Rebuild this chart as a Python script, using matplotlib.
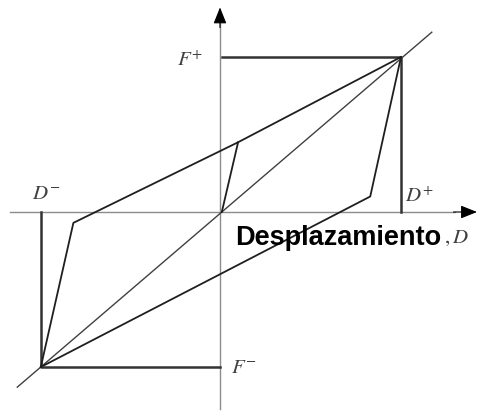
import numpy as np
import matplotlib
matplotlib.use('Agg')
import matplotlib.pyplot as plt

plt.rcParams['mathtext.fontset'] = 'stix'

# normalised displacement / force of the cycle
d_peak_pos, f_peak_pos = 1.0, 1.0
d_peak_neg, f_peak_neg = -0.99, -1.0

# upper (unloading from D-) branch
upper_d = [-0.99, -0.81, 0.10, 1.0]
upper_f = [-1.0, -0.07, 0.45, 1.0]
# partial reload from the upper branch back to the origin
reload_d = [0.10, 0.01]
reload_f = [0.45, 0.0]
# lower branch
lower_d = [-0.99, 0.83, 1.0]
lower_f = [-1.0, 0.10, 1.0]
# secant line through both peaks
secant_d = [-1.12, 1.17]
secant_f = [-1.13, 1.16]

fig = plt.figure(figsize=(4.81, 4.12), dpi=100)
ax = fig.add_axes([0, 0, 1, 1])
ax.set_xlim(-220/181., 261/181.)
ax.set_ylim(-200/155., 212/155.)
ax.axis('off')

axis_col = '0.55'
line_col = '0.12'

# coordinate axes
ax.plot([-1.16, 1.30], [0, 0], color=axis_col, lw=1.0)
ax.plot([0, 0], [-1.27, 1.22], color=axis_col, lw=1.0)
ax.annotate('', xy=(1.42, 0), xytext=(1.29, 0),
            arrowprops=dict(arrowstyle='-|>,head_length=1.0,head_width=0.4',
                            color='black', lw=0.8, shrinkA=0, shrinkB=0))
ax.annotate('', xy=(0, 1.32), xytext=(0, 1.19),
            arrowprops=dict(arrowstyle='-|>,head_length=1.0,head_width=0.4',
                            color='black', lw=0.8, shrinkA=0, shrinkB=0))

# peak markers
ax.plot([0.01, d_peak_pos, d_peak_pos], [f_peak_pos, f_peak_pos, 0], color='0.2', lw=1.8)
ax.plot([d_peak_neg, d_peak_neg, 0], [0, f_peak_neg, f_peak_neg], color='0.2', lw=1.8)

# secant
ax.plot(secant_d, secant_f, color='0.25', lw=1.0)

# loops
ax.plot(upper_d, upper_f, color=line_col, lw=1.3)
ax.plot(reload_d, reload_f, color=line_col, lw=1.3)
ax.plot(lower_d, lower_f, color=line_col, lw=1.3)

# labels
lab_col = '0.25'
ax.text(-0.09, 0.98, r'$F^{+}$', ha='right', va='center', fontsize=15, color=lab_col)
ax.text(0.06, f_peak_neg, r'$F^{-}$', ha='left', va='center', fontsize=15, color=lab_col)
ax.text(-0.96, 0.12, r'$D^{-}$', ha='center', va='center', fontsize=15, color=lab_col)
ax.text(1.10, 0.10, r'$D^{+}$', ha='center', va='center', fontsize=15, color=lab_col)

ax.text(0.085, -0.17, 'Desplazamiento', ha='left', va='center', fontsize=19.5,
        fontweight='bold', family=['Liberation Sans Narrow', 'Liberation Sans', 'DejaVu Sans'],
        color='black')
ax.text(1.235, -0.17, r'$,D$', ha='left', va='center', fontsize=15, color=lab_col)

fig.savefig('out.png', dpi=100)
